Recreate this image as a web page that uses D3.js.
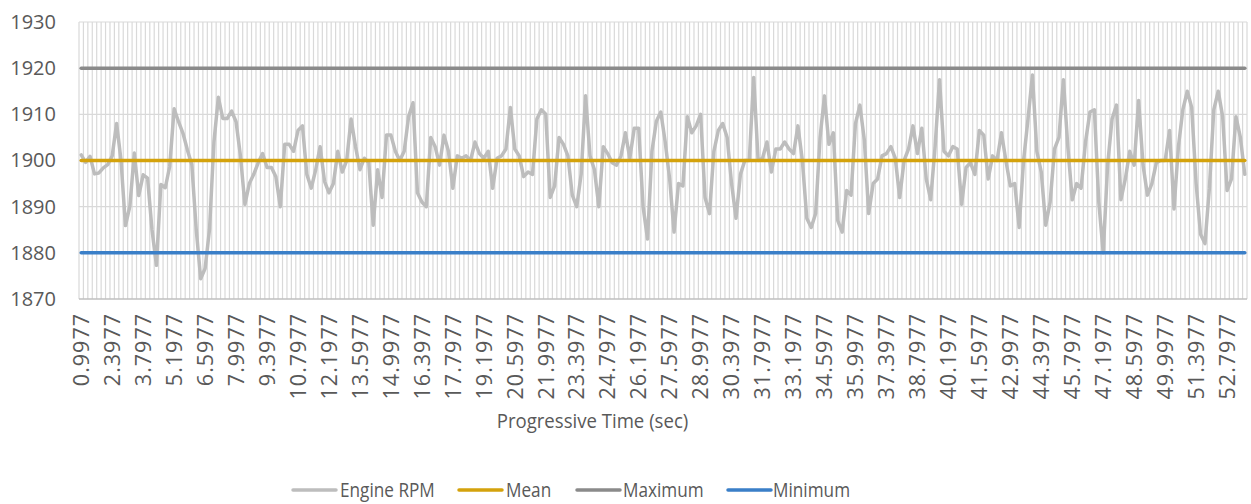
<!DOCTYPE html>
<html>
<head>
<meta charset="utf-8">
<script src="https://cdn.jsdelivr.net/npm/d3@7"></script>
<style>
  body { margin: 0; background: #fff; }
  svg { display: block; }
  text { font-family: "Open Sans", sans-serif; fill: #595959; }
</style>
</head>
<body>
<svg id="chart" width="1251" height="504"></svg>
<script>
// Engine speed samples, one every 0.2 s starting at 0.9977 s
const startTime = 0.9977;
const timeStep = 0.2;
const engineRpm = [
  1901.2, 1899.6, 1900.9, 1897.1, 1897.3, 1898.4, 1899.1, 1901, 1908, 1900,
  1885.9, 1890.1, 1901.6, 1892.4, 1896.9, 1896.2, 1885, 1877.3, 1894.8, 1894.1,
  1898.7, 1911.2, 1908.4, 1905.9, 1902.3, 1899.1, 1885, 1874.4, 1876.6, 1885.1,
  1904, 1913.7, 1909.1, 1909.1, 1910.7, 1908.4, 1900.9, 1890.5, 1895, 1897,
  1899.5, 1901.5, 1898.5, 1898.5, 1896.5, 1890, 1903.5, 1903.5, 1902, 1906.5,
  1907.5, 1897, 1894, 1898, 1903, 1895.5, 1893, 1895, 1902, 1897.5,
  1900, 1909, 1903, 1898, 1900.5, 1899.5, 1886, 1898, 1892, 1905.5,
  1905.5, 1902, 1900, 1902, 1909.5, 1912.5, 1893, 1891, 1890, 1905,
  1903, 1899, 1905.5, 1902, 1894, 1901, 1900.5, 1901, 1900, 1904,
  1901.5, 1900.5, 1902, 1894, 1900.5, 1901, 1902.5, 1911.5, 1902.5, 1901,
  1896.5, 1897.5, 1897, 1909, 1911, 1910, 1892, 1894.5, 1905, 1903.5,
  1901, 1892.5, 1890, 1897, 1914, 1901, 1898, 1890, 1903, 1901.5,
  1899.5, 1899, 1901, 1906, 1900.5, 1907, 1907, 1890, 1883, 1902,
  1908.5, 1910.5, 1904, 1896, 1884.5, 1895, 1894.5, 1909.5, 1906, 1907.5,
  1910, 1892, 1888.5, 1902, 1906.5, 1908, 1905, 1895, 1887.5, 1897,
  1900, 1900, 1918, 1900, 1900.5, 1904, 1897.5, 1902.5, 1902.5, 1904,
  1902.5, 1901.5, 1907.5, 1900, 1887.5, 1885.5, 1888.5, 1905, 1914, 1903.5,
  1906, 1887, 1884.5, 1893.5, 1892.5, 1908, 1912, 1904.5, 1888.5, 1895,
  1896, 1901, 1901.5, 1903, 1900.5, 1892, 1900, 1902.5, 1907.5, 1901.5,
  1907, 1896, 1891.5, 1903, 1917.5, 1902, 1901, 1903, 1902.5, 1890.5,
  1898.5, 1899.5, 1897, 1906.5, 1905.5, 1896, 1901, 1900, 1906, 1900,
  1894.5, 1895, 1885.5, 1900, 1909, 1918.5, 1902, 1897.5, 1886, 1891,
  1902.5, 1905, 1917.5, 1903, 1891.5, 1895, 1894, 1904, 1910.5, 1911,
  1891, 1880, 1899, 1909, 1912, 1891.5, 1896, 1902, 1899, 1913,
  1899, 1892.5, 1895, 1899.5, 1900, 1900, 1906.5, 1889.5, 1903, 1911,
  1915, 1911.5, 1895, 1884, 1882, 1894, 1911, 1915, 1909.5, 1893.5,
  1896, 1909.5, 1905, 1897
];

// Reference levels
const meanRpm = 1900;
const maxRpm = 1920;
const minRpm = 1880;

// Axis ticks
const yTicks = [1870, 1880, 1890, 1900, 1910, 1920, 1930];
const xTickLabels = [
  "0.9977", "2.3977", "3.7977", "5.1977", "6.5977", "7.9977", "9.3977",
  "10.7977", "12.1977", "13.5977", "14.9977", "16.3977", "17.7977", "19.1977",
  "20.5977", "21.9977", "23.3977", "24.7977", "26.1977", "27.5977", "28.9977",
  "30.3977", "31.7977", "33.1977", "34.5977", "35.9977", "37.3977", "38.7977",
  "40.1977", "41.5977", "42.9977", "44.3977", "45.7977", "47.1977", "48.5977",
  "49.9977", "51.3977", "52.7977"
];

const categories = engineRpm.map((_, i) => (startTime + i * timeStep).toFixed(4));

const series = [
  { name: "Engine RPM", color: "#BDBDBD" },
  { name: "Mean", color: "#D4A20C" },
  { name: "Maximum", color: "#8A8A8A" },
  { name: "Minimum", color: "#3A7FC8" }
];

const svg = d3.select("#chart");
const plot = { left: 79, right: 1247, top: 22, bottom: 299 };

const x = d3.scaleBand().domain(categories).range([plot.left, plot.right]).padding(0);
const y = d3.scaleLinear().domain([1870, 1930]).range([plot.bottom, plot.top]);
const cx = c => x(c) + x.bandwidth() / 2;

// Vertical gridlines at every category boundary
const bounds = categories.map(c => x(c)).concat([plot.right]);
svg.append("g").selectAll("line").data(bounds).join("line")
  .attr("x1", d => d).attr("x2", d => d)
  .attr("y1", plot.top).attr("y2", plot.bottom)
  .attr("stroke", "#D9D9D9").attr("stroke-width", 1.2);

// Horizontal gridlines
svg.append("g").selectAll("line").data(yTicks).join("line")
  .attr("x1", plot.left).attr("x2", plot.right)
  .attr("y1", d => y(d)).attr("y2", d => y(d))
  .attr("stroke", d => d === 1870 ? "#BFBFBF" : "#D9D9D9")
  .attr("stroke-width", d => d === 1870 ? 1.5 : 1.2);

// Y axis labels
const yAxis = d3.axisLeft(y).tickValues(yTicks).tickSize(0).tickPadding(0).tickFormat(d3.format("d"));
svg.append("g").attr("transform", `translate(${plot.left - 23},0)`).call(yAxis)
  .call(g => g.select(".domain").remove())
  .selectAll("text").style("font-size", "20px").attr("fill", "#595959")
  .attr("font-family", "Open Sans");

// X axis labels, rotated to read bottom-up
const labelCats = categories.filter(c => xTickLabels.includes(c));
const xAxis = d3.axisBottom(x).tickValues(labelCats).tickSize(0).tickPadding(0);
svg.append("g").attr("transform", `translate(0,${plot.bottom})`).call(xAxis)
  .call(g => g.select(".domain").remove())
  .selectAll("text")
  .style("font-size", "21.5px").style("letter-spacing", "1px")
  .attr("fill", "#595959").attr("font-family", "Open Sans")
  .attr("text-anchor", "end")
  .attr("transform", "rotate(-90)")
  .attr("x", -14).attr("y", 0).attr("dy", "0.36em");

// Axis title
svg.append("g").attr("transform", "translate(592.5,428) scale(0.93,1)")
  .append("text").attr("x", 0).attr("y", 0)
  .attr("text-anchor", "middle").style("font-size", "20px").text("Progressive Time (sec)");

// Reference lines
const refs = [
  { v: meanRpm, color: series[1].color },
  { v: maxRpm, color: series[2].color },
  { v: minRpm, color: series[3].color }
];

// Engine RPM trace
const line = d3.line().x((d, i) => cx(categories[i])).y(d => y(d));
svg.append("path").datum(engineRpm)
  .attr("d", line).attr("fill", "none")
  .attr("stroke", series[0].color).attr("stroke-width", 3.5)
  .attr("stroke-linejoin", "round").attr("stroke-linecap", "round");

svg.append("g").selectAll("line").data(refs).join("line")
  .attr("x1", cx(categories[0])).attr("x2", cx(categories[categories.length - 1]))
  .attr("y1", d => y(d.v)).attr("y2", d => y(d.v))
  .attr("stroke", d => d.color).attr("stroke-width", 3.5).attr("stroke-linecap", "round");

// Legend
const legendLine = [293, 459, 577, 728];
const legendText = [340, 506, 623, 773];
const leg = svg.append("g").selectAll("g").data(series).join("g");
leg.append("line")
  .attr("x1", (d, i) => legendLine[i]).attr("x2", (d, i) => legendLine[i] + 43)
  .attr("y1", 490).attr("y2", 490)
  .attr("stroke", d => d.color).attr("stroke-width", 3.5).attr("stroke-linecap", "round");
leg.append("g").attr("transform", (d, i) => `translate(${legendText[i]},490) scale(0.86,1)`)
  .append("text").attr("x", 0).attr("y", 0).attr("dy", "0.35em")
  .style("font-size", "20px").text(d => d.name);
</script>
</body>
</html>
